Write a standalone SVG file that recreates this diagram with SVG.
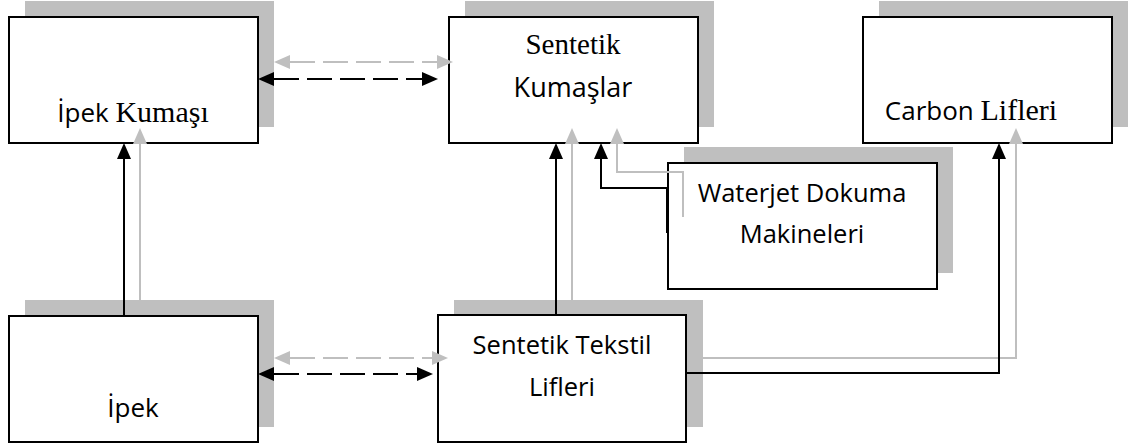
<svg xmlns="http://www.w3.org/2000/svg" width="1135" height="447" viewBox="0 0 1135 447">
  <style>
    .shadow { fill: #BFBFBF; }
    .box { fill: #FFFFFF; stroke: #000000; stroke-width: 2; }
    .sans { font-family: "Open Sans", "Liberation Sans", sans-serif; fill: #000000; }
    .serif { font-family: "Liberation Serif", "Times New Roman", serif; fill: #000000; }
    .link { fill: none; stroke: #000000; stroke-width: 2; }
    .link-soft { fill: none; stroke: #BFBFBF; stroke-width: 2; }
    .dash { stroke-dasharray: 25 8; }
  </style>
  <defs>
    <marker id="arrow" markerUnits="userSpaceOnUse" markerWidth="16" markerHeight="14" refX="0" refY="7" orient="auto-start-reverse">
      <path d="M0,0 L16,7 L0,14 Z" fill="#000000"/>
    </marker>
    <marker id="arrow-soft" markerUnits="userSpaceOnUse" markerWidth="16" markerHeight="14" refX="0" refY="7" orient="auto-start-reverse">
      <path d="M0,0 L16,7 L0,14 Z" fill="#BFBFBF"/>
    </marker>
  </defs>

  <!-- İpek Kumaşı -->
  <g id="ipek-kumasi">
    <rect class="shadow" x="25" y="1" width="249" height="126"/>
    <rect class="box" x="9" y="17" width="249" height="126"/>
    <text class="sans" x="133" y="122" text-anchor="middle" font-size="26">İpek <tspan class="serif" font-size="30">Kumaşı</tspan></text>
  </g>

  <!-- Sentetik Kumaşlar -->
  <g id="sentetik-kumaslar">
    <rect class="shadow" x="465" y="1" width="249" height="126"/>
    <rect class="box" x="449" y="17" width="249" height="126"/>
    <text class="serif" x="573" y="54" text-anchor="middle" font-size="29">Sentetik</text>
    <text class="sans" x="573" y="97" text-anchor="middle" font-size="27">Kumaşlar</text>
  </g>

  <!-- Carbon Lifleri -->
  <g id="carbon-lifleri">
    <rect class="shadow" x="879" y="1" width="249" height="126"/>
    <rect class="box" x="863" y="17" width="249" height="126"/>
    <text class="sans" x="971" y="120" text-anchor="middle" font-size="26">Carbon <tspan class="serif" font-size="30">Lifleri</tspan></text>
  </g>

  <!-- Waterjet Dokuma Makineleri -->
  <g id="waterjet">
    <rect class="shadow" x="684" y="147" width="269" height="126"/>
    <rect class="box" x="668" y="163" width="269" height="126"/>
    <text class="sans" x="802" y="202" text-anchor="middle" font-size="25.5">Waterjet Dokuma</text>
    <text class="sans" x="802" y="243" text-anchor="middle" font-size="25.5">Makineleri</text>
  </g>

  <!-- İpek -->
  <g id="ipek">
    <rect class="shadow" x="25" y="300" width="249" height="127"/>
    <rect class="box" x="9" y="316" width="249" height="126"/>
    <text class="sans" x="133" y="417" text-anchor="middle" font-size="26">İpek</text>
  </g>

  <!-- Sentetik Tekstil Lifleri -->
  <g id="sentetik-tekstil">
    <rect class="shadow" x="454" y="300" width="249" height="127"/>
    <rect class="box" x="438" y="315" width="248" height="127"/>
    <text class="sans" x="562" y="354" text-anchor="middle" font-size="25.5">Sentetik Tekstil</text>
    <text class="sans" x="562" y="396" text-anchor="middle" font-size="25.5">Lifleri</text>
  </g>

  <g id="connectors">
    <!-- light echo lines -->
    <path class="link-soft" d="M140,300 V144" marker-end="url(#arrow-soft)"/>
    <path class="link-soft" d="M572,300 V144" marker-end="url(#arrow-soft)"/>
    <path class="link-soft" d="M683,217 V172 H617 V144" marker-end="url(#arrow-soft)"/>
    <path class="link-soft" d="M703,358 H1016 V144" marker-end="url(#arrow-soft)"/>
    <path class="link-soft dash" d="M290,62 H437" marker-start="url(#arrow-soft)" marker-end="url(#arrow-soft)"/>
    <path class="link-soft dash" d="M290,358 H432" marker-start="url(#arrow-soft)" marker-end="url(#arrow-soft)"/>

    <!-- main lines -->
    <path class="link" d="M124,316 V159" marker-end="url(#arrow)"/>
    <path class="link" d="M556,315 V159" marker-end="url(#arrow)"/>
    <path class="link" d="M667,233 V188 H601 V159" marker-end="url(#arrow)"/>
    <path class="link" d="M686,373 H999 V159" marker-end="url(#arrow)"/>
    <path class="link dash" d="M274,79 H422" marker-start="url(#arrow)" marker-end="url(#arrow)"/>
    <path class="link dash" d="M274,374 H417" marker-start="url(#arrow)" marker-end="url(#arrow)"/>
  </g>
</svg>
